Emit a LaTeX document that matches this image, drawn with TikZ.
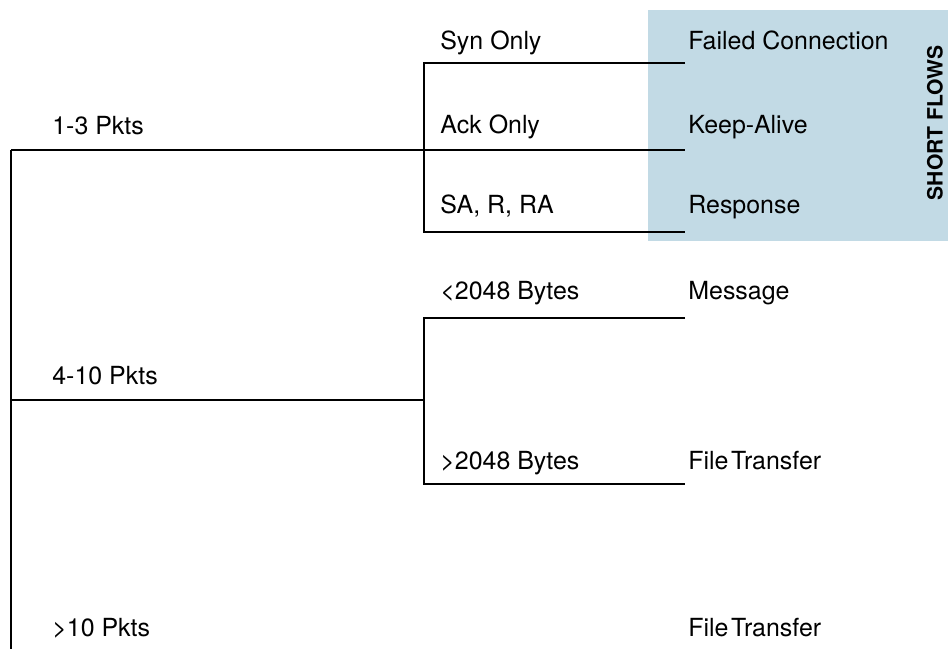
\documentclass[tikz,border=0pt]{standalone}
\usepackage{fontspec}
\setmainfont{TeX Gyre Heros}
\usepackage{xcolor}
\definecolor{flowblue}{HTML}{C2DAE5}

\begin{document}
\begin{tikzpicture}[x=0.02cm,y=-0.02cm,
    branch/.style={line width=1.7pt},
    lbl/.style={anchor=base west,inner sep=0pt,font=\fontsize{14.2}{17}\selectfont}]
  \useasboundingbox (0,0) rectangle (948,649);
  % shaded band for the short flows
  \fill[flowblue] (648,10) rectangle (948,241);
  \node[rotate=90,font=\bfseries\fontsize{12}{14}\selectfont] (short) at (935,123) {SHORT FLOWS};
  % split points
  \coordinate (k1) at (11,150);
  \coordinate (k2) at (11,400);
  \coordinate (k3) at (11,649);
  \coordinate (s1) at (424,150);
  \coordinate (s2) at (424,400);
  \coordinate (s1bot) at (424,232);
  \coordinate (s2bot) at (424,484);
  \coordinate (l1) at (685,63);
  \coordinate (l2) at (685,150);
  \coordinate (l3) at (685,232);
  \coordinate (l4) at (685,318);
  \coordinate (l5) at (685,484);
  % tree lines
  \draw[branch] (k1) -- (k3);
  \draw[branch] (k1) -- (s1);
  \draw[branch] (k2) -- (s2);
  \draw[branch] (l1) -| (s1bot) -- (l3);
  \draw[branch] (s1) -- (l2);
  \draw[branch] (l4) -| (s2bot) -- (l5);
  % packet counts
  \node[lbl] (pk1) at (52,134) {1-3 Pkts};
  \node[lbl] (pk2) at (52,384) {4-10 Pkts};
  \node[lbl] (pk3) at (52,636) {>10 Pkts};
  % flags and sizes
  \node[lbl] (syn) at (440,50) {Syn Only};
  \node[lbl] (ack) at (440,133) {Ack Only};
  \node[lbl] (sar) at (440,213) {SA, R, RA};
  \node[lbl] (small) at (440,299) {<2048 Bytes};
  \node[lbl] (big) at (440,469) {>2048 Bytes};
  % flow kinds
  \node[lbl] (failed) at (688,50) {Failed Connection};
  \node[lbl] (keep) at (688,133) {Keep-Alive};
  \node[lbl] (resp) at (688,213) {Response};
  \node[lbl] (msg) at (688,299) {Message};
  \node[lbl] (ft1) at (688,469) {File\hspace{.1em}Transfer};
  \node[lbl] (ft2) at (688,636) {File\hspace{.1em}Transfer};
\end{tikzpicture}
\end{document}
